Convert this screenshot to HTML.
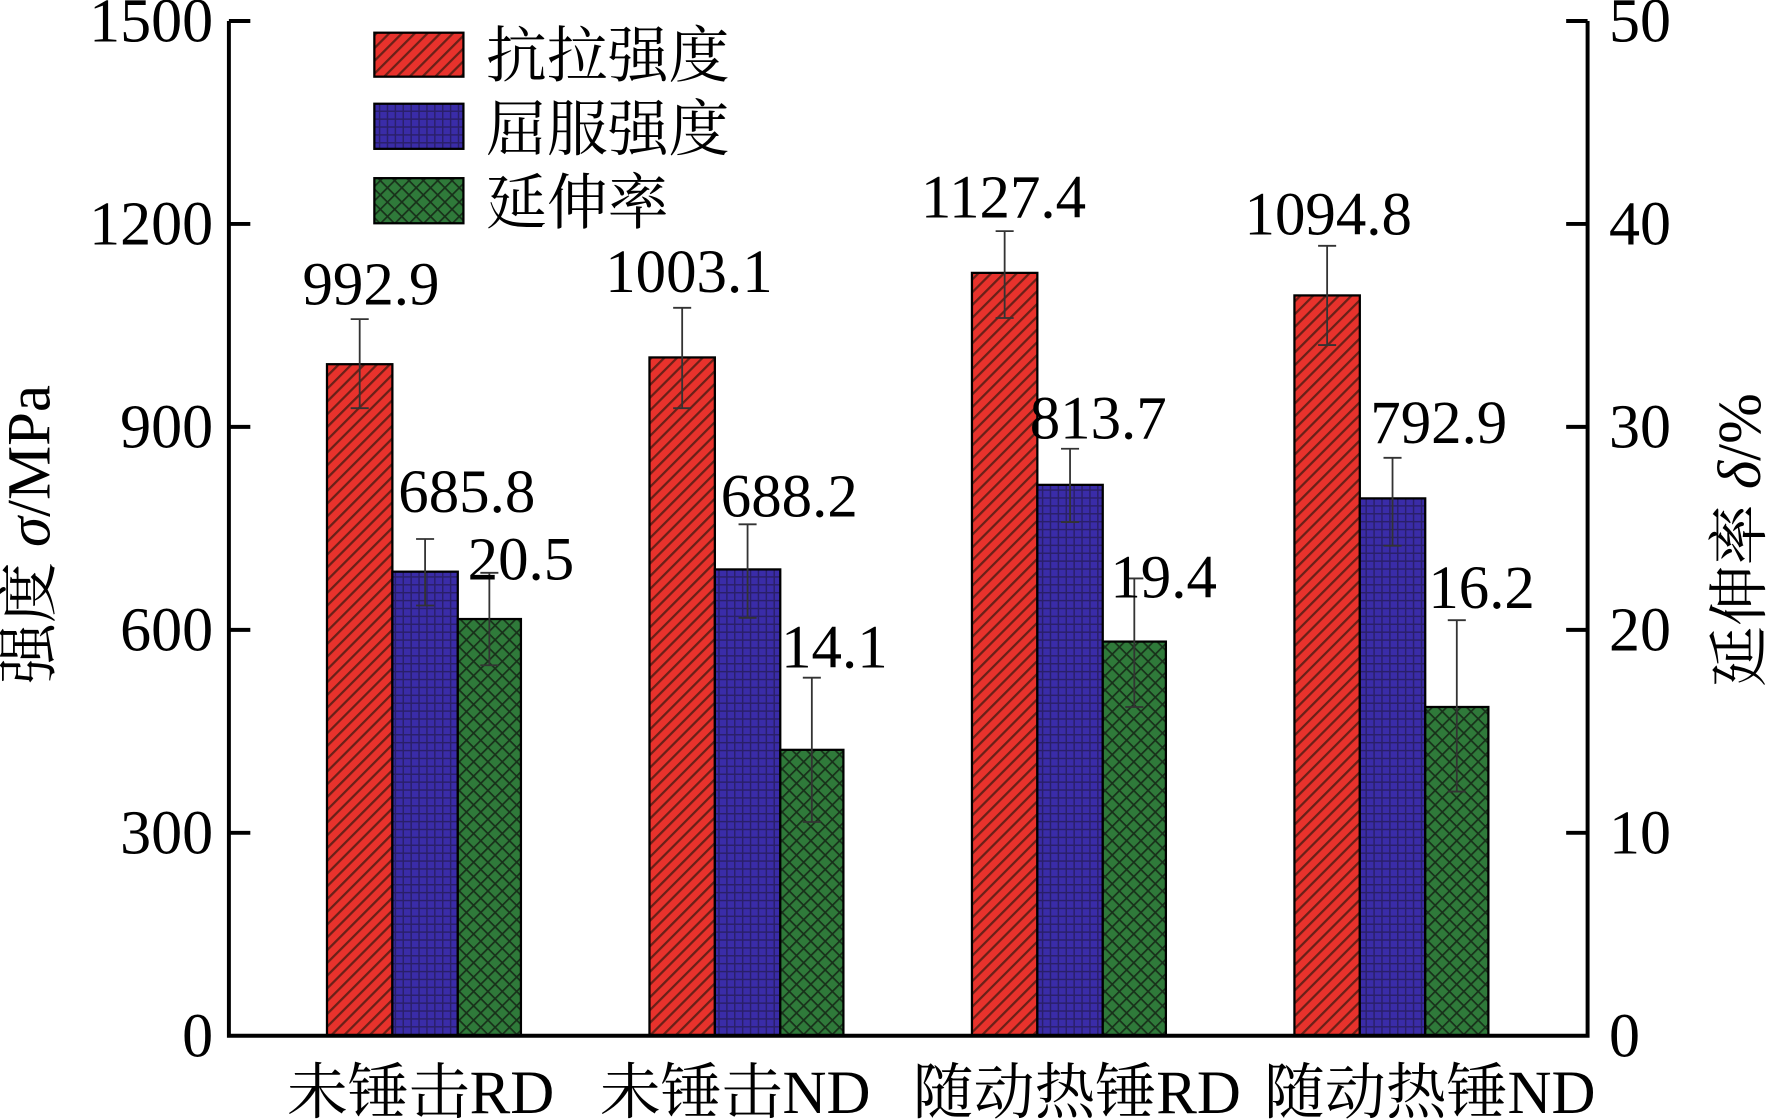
<!DOCTYPE html>
<html><head><meta charset="utf-8"><style>html,body{margin:0;padding:0;background:#fff}svg{display:block}</style></head>
<body>
<svg width="1768" height="1119" viewBox="0 0 1568 992.4" preserveAspectRatio="none" xmlns="http://www.w3.org/2000/svg" font-family="'Liberation Serif','Noto Serif CJK SC',serif">
<defs>
<pattern id="pr" width="8" height="8" patternUnits="userSpaceOnUse" patternTransform="rotate(45)">
<rect width="8" height="8" fill="#e8322c"/><rect x="0" width="2" height="8" fill="#6a2018"/></pattern>
<pattern id="pb" width="7" height="7" patternUnits="userSpaceOnUse">
<rect width="7" height="7" fill="#3a2ca8"/><rect width="7" height="1.3" fill="#2a1f6a"/><rect width="1.3" height="7" fill="#2a1f6a"/></pattern>
<pattern id="pg" width="9" height="9" patternUnits="userSpaceOnUse" patternTransform="rotate(45)">
<rect width="9" height="9" fill="#2f7a3a"/><rect width="9" height="1.5" fill="#18301a"/><rect width="1.5" height="9" fill="#18301a"/></pattern>
</defs>
<g stroke="#000" stroke-width="2">
<rect x="290" y="323" width="58" height="595.6" fill="url(#pr)"/>
<rect x="348" y="507" width="58" height="411.6" fill="url(#pb)"/>
<rect x="406" y="549" width="56" height="369.6" fill="url(#pg)"/>
<rect x="576" y="317" width="58" height="601.6" fill="url(#pr)"/>
<rect x="634" y="505" width="58" height="413.6" fill="url(#pb)"/>
<rect x="692" y="665" width="56" height="253.6" fill="url(#pg)"/>
<rect x="862" y="242" width="58" height="676.6" fill="url(#pr)"/>
<rect x="920" y="430" width="58" height="488.6" fill="url(#pb)"/>
<rect x="978" y="569" width="56" height="349.6" fill="url(#pg)"/>
<rect x="1148" y="262" width="58" height="656.6" fill="url(#pr)"/>
<rect x="1206" y="442" width="58" height="476.6" fill="url(#pb)"/>
<rect x="1264" y="627" width="56" height="291.6" fill="url(#pg)"/>
</g>
<g stroke="#333" stroke-width="1.6" fill="none">
<path d="M319 283V362M311 283h16M311 362h16"/>
<path d="M377 478V537M369 478h16M369 537h16"/>
<path d="M434 508V590M426 508h16M426 590h16"/>
<path d="M605 273V362M597 273h16M597 362h16"/>
<path d="M663 465V548M655 465h16M655 548h16"/>
<path d="M720 601V729M712 601h16M712 729h16"/>
<path d="M891 205V282M883 205h16M883 282h16"/>
<path d="M949 398V463M941 398h16M941 463h16"/>
<path d="M1006 513V627M998 513h16M998 627h16"/>
<path d="M1177 218V306M1169 218h16M1169 306h16"/>
<path d="M1235 406V484M1227 406h16M1227 484h16"/>
<path d="M1292 550V702M1284 550h16M1284 702h16"/>
</g>
<path d="M203 18.6V918.6H1408V18.6" fill="none" stroke="#000" stroke-width="3.5"/>
<g stroke="#000" stroke-width="3.5">
<path d="M203 18.6h19M203 198.6h19M203 378.6h19M203 558.6h19M203 738.6h19"/>
<path d="M1408 18.6h-19M1408 198.6h-19M1408 378.6h-19M1408 558.6h-19M1408 738.6h-19"/>
</g>
<g font-size="55" fill="#000" text-anchor="end">
<text x="189" y="37">1500</text><text x="189" y="217">1200</text><text x="189" y="397">900</text>
<text x="189" y="577">600</text><text x="189" y="757">300</text><text x="189" y="937">0</text>
</g>
<g font-size="55" fill="#000">
<text x="1427" y="37">50</text><text x="1427" y="217">40</text><text x="1427" y="397">30</text>
<text x="1427" y="577">20</text><text x="1427" y="757">10</text><text x="1427" y="937">0</text>
</g>
<g font-size="54" fill="#000" text-anchor="middle">
<text x="329" y="270">992.9</text><text x="414" y="454">685.8</text><text x="462" y="514">20.5</text>
<text x="611" y="259">1003.1</text><text x="700" y="458">688.2</text><text x="740" y="592">14.1</text>
<text x="890" y="193">1127.4</text><text x="974" y="389">813.7</text><text x="1032" y="530">19.4</text>
<text x="1178" y="208">1094.8</text><text x="1276" y="393">792.9</text><text x="1314" y="539">16.2</text>
</g>
<g stroke="#000" stroke-width="2">
<rect x="332" y="29" width="79" height="39" fill="url(#pr)"/>
<rect x="332" y="92" width="79" height="40" fill="url(#pb)"/>
<rect x="332" y="158" width="79" height="40" fill="url(#pg)"/>
</g>
<g font-size="54" fill="#000">
<text x="431" y="68">抗拉强度</text><text x="431" y="133">屈服强度</text><text x="431" y="198">延伸率</text>
</g>
<g font-size="54" fill="#000" text-anchor="middle">
<text x="373" y="987">未锤击RD</text><text x="652" y="987">未锤击ND</text>
<text x="955" y="987">随动热锤RD</text><text x="1268" y="987">随动热锤ND</text>
</g>
<text font-size="54" text-anchor="middle" transform="translate(44 474) rotate(-90)">强度 <tspan font-style="italic">σ</tspan>/MPa</text>
<text font-size="54" text-anchor="middle" transform="translate(1561 479) rotate(-90)">延伸率 <tspan font-style="italic">δ</tspan>/%</text>
</svg>
</body></html>
